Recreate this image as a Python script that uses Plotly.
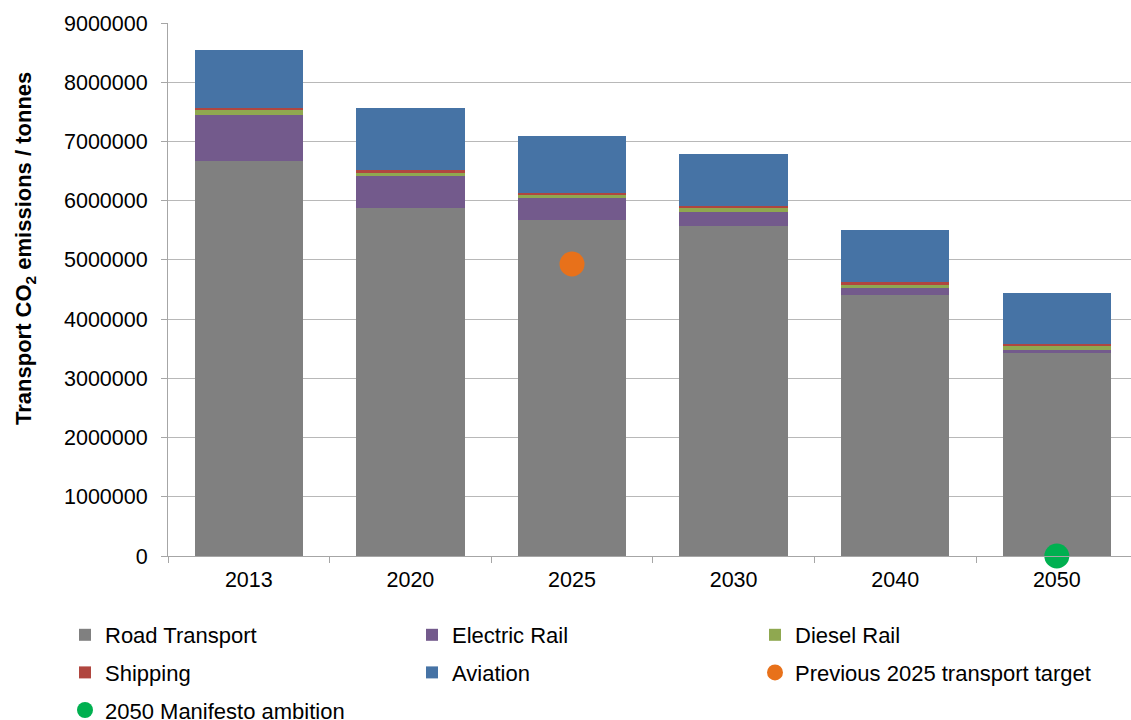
import plotly.graph_objects as go

years = ["2013", "2020", "2025", "2030", "2040", "2050"]
road_transport = [6670000, 5880000, 5670000, 5570000, 4410000, 3430000]
electric_rail = [780000, 540000, 370000, 240000, 120000, 50000]
diesel_rail = [85000, 50000, 50000, 70000, 50000, 70000]
shipping = [35000, 50000, 35000, 35000, 50000, 35000]
aviation = [980000, 1050000, 960000, 880000, 880000, 860000]
target_2025_x = ["2025"]
target_2025_y = [4930000]
manifesto_2050_x = ["2050"]
manifesto_2050_y = [0]
y_ticks = [0, 1000000, 2000000, 3000000, 4000000, 5000000, 6000000, 7000000, 8000000, 9000000]
y_title = "<b>Transport CO<sub>2</sub> emissions / tonnes</b>"

FONT = "Liberation Sans, Arial, sans-serif"

fig = go.Figure()
bar_series = [
    ("Road Transport", road_transport, "#808080", "legend"),
    ("Electric Rail", electric_rail, "#735A8C", "legend2"),
    ("Diesel Rail", diesel_rail, "#8FA850", "legend3"),
    ("Shipping", shipping, "#B0463F", "legend"),
    ("Aviation", aviation, "#4673A5", "legend2"),
]
for name, vals, col, lg in bar_series:
    fig.add_trace(go.Bar(x=years, y=vals, name=name, marker=dict(color=col, line=dict(width=0)),
                         legend=lg, legendgroup=name))

fig.add_trace(go.Scatter(x=target_2025_x, y=target_2025_y, mode="markers",
                         name="Previous 2025 transport target",
                         marker=dict(color="#E8711A", size=25), legend="legend3",
                         legendgroup="target", cliponaxis=False))
fig.add_trace(go.Scatter(x=manifesto_2050_x, y=manifesto_2050_y, mode="markers",
                         name="2050 Manifesto ambition",
                         marker=dict(color="#00B050", size=25), legend="legend",
                         legendgroup="manifesto", cliponaxis=False))

leg_common = dict(orientation="v", xref="container", yref="container", xanchor="left",
                  yanchor="top", y=1 - 614 / 720, tracegroupgap=6, traceorder="grouped",
                  font=dict(family=FONT, size=22, color="black"), bgcolor="rgba(0,0,0,0)",
                  itemclick=False)

fig.update_layout(
    width=1131, height=720,
    margin=dict(l=168, r=0, t=23, b=164, autoexpand=False),
    paper_bgcolor="white", plot_bgcolor="white",
    barmode="stack", bargap=0.33,
    font=dict(family=FONT, size=21, color="black"),
    legend=dict(x=65 / 1131, **leg_common),
    legend2=dict(x=412 / 1131, **leg_common),
    legend3=dict(x=755 / 1131, **leg_common),
    xaxis=dict(type="category", range=[-0.5, 5.459], showline=True, linecolor="#A6A6A6",
               ticks="outside", tickson="boundaries", ticklen=6, tickcolor="#A6A6A6",
               ticklabelstandoff=4,
               tickfont=dict(family=FONT, size=21.5, color="black"), showgrid=False),
    yaxis=dict(range=[0, 9000000], tickvals=y_ticks, tickformat="d", showline=True,
               linecolor="#A6A6A6", ticks="outside", ticklen=6, tickcolor="#A6A6A6",
               ticklabelstandoff=9,
               showgrid=True, gridcolor="#B8B8B8", gridwidth=1, zeroline=False,
               tickfont=dict(family=FONT, size=21.5, color="black")),
    annotations=[dict(text=y_title, xref="paper", yref="paper", x=(25 - 168) / 963,
                      y=(556 - 249) / 533, textangle=-90, showarrow=False,
                      xanchor="center", yanchor="middle",
                      font=dict(family=FONT, size=22, color="black"))],
    showlegend=True,
)

fig.write_html("out.html", config={"displayModeBar": False},
               post_script="document.body.style.margin='0';document.body.style.padding='0';")
